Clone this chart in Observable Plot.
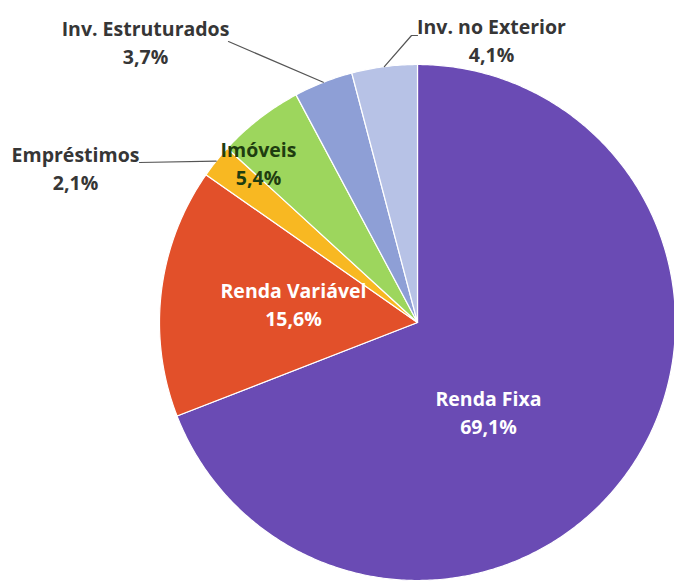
<!DOCTYPE html>
<html><head><meta charset="utf-8">
<script src="https://cdn.jsdelivr.net/npm/d3@7"></script>
<script src="https://cdn.jsdelivr.net/npm/@observablehq/plot@0.6"></script>
<style>body{margin:0;background:#fff}#chart svg{display:block}</style>
</head><body><div id="chart"></div>
<script>
// ---- data ----
const categories = ["Renda Fixa", "Renda Variável", "Empréstimos", "Imóveis", "Inv. Estruturados", "Inv. no Exterior"];
const shares = [69.1, 15.6, 2.1, 5.4, 3.7, 4.1];
const shareLabels = ["69,1%", "15,6%", "2,1%", "5,4%", "3,7%", "4,1%"];
const colors = ["#6a4bb4", "#e2502a", "#f8b822", "#9dd65d", "#8e9fd6", "#b7c2e6"];

// ---- layout ----
const W = 674, H = 581, CX = 417, CY = 322, R = 258;
const labelLayout = {
  "Renda Fixa":        {x: 488, y: 399, fill: "#ffffff"},
  "Renda Variável":    {x: 293, y: 291, fill: "#ffffff"},
  "Empréstimos":       {x: 75,  y: 155, fill: "#363636", anchor: [139, 162]},
  "Imóveis":           {x: 258, y: 150, fill: "#1f3d10"},
  "Inv. Estruturados": {x: 145, y: 29,  fill: "#363636", anchor: [228, 41]},
  "Inv. no Exterior":  {x: 491, y: 27,  fill: "#363636", anchor: [417, 35], elbow: [411, 35]}
};

const rows = categories.map((c, i) => ({cat: c, share: shares[i], label: shareLabels[i]}));
const arcs = d3.pie().sort(null).value(d => d.share)(rows);
const pt = (a, r) => ({x: CX + r * Math.sin(a), y: CY - r * Math.cos(a)});

// slice polygons (center + arc samples)
const slicePts = [];
arcs.forEach(a => {
  const cat = a.data.cat;
  slicePts.push({cat, ...pt(0, 0)});
  const n = Math.max(2, Math.ceil((a.endAngle - a.startAngle) / 0.01));
  for (let k = 0; k <= n; k++) {
    const ang = a.startAngle + (a.endAngle - a.startAngle) * k / n;
    slicePts.push({cat, ...pt(ang, R)});
  }
});

// leader lines: from slice edge at mid angle to label anchor
const leaderPts = [];
arcs.forEach(a => {
  const L = labelLayout[a.data.cat];
  if (!L.anchor) return;
  const mid = (a.startAngle + a.endAngle) / 2;
  leaderPts.push({cat: a.data.cat, ...pt(mid, R)});
  if (L.elbow) leaderPts.push({cat: a.data.cat, x: L.elbow[0], y: L.elbow[1]});
  leaderPts.push({cat: a.data.cat, x: L.anchor[0], y: L.anchor[1]});
});

const labels = rows.map(r => ({...r, ...labelLayout[r.cat]}));
const font = "'Open Sans', Lato, sans-serif";
const textMark = (fill) => Plot.text(labels.filter(d => d.fill === fill), {
  x: "x", y: "y", text: d => d.cat + "\n" + d.label,
  fill, fontSize: 19.5, fontWeight: "bold", fontFamily: font, lineHeight: 1.46, lineAnchor: "top",
  dy: -14
});

const chart = Plot.plot({
  width: W, height: H,
  margin: 0,
  x: {domain: [0, W], range: [0, W], axis: null},
  y: {domain: [0, H], range: [0, H], axis: null},
  color: {domain: categories, range: colors},
  style: {background: "#fff"},
  marks: [
    Plot.line(slicePts, {x: "x", y: "y", z: "cat", fill: "cat", stroke: "#ffffff", strokeWidth: 1.2, curve: "linear-closed"}),
    Plot.line(leaderPts, {x: "x", y: "y", z: "cat", stroke: "#555555", strokeWidth: 1.2}),
    textMark("#ffffff"),
    textMark("#363636"),
    textMark("#1f3d10")
  ]
});
document.getElementById("chart").append(chart);
</script>
</body></html>
